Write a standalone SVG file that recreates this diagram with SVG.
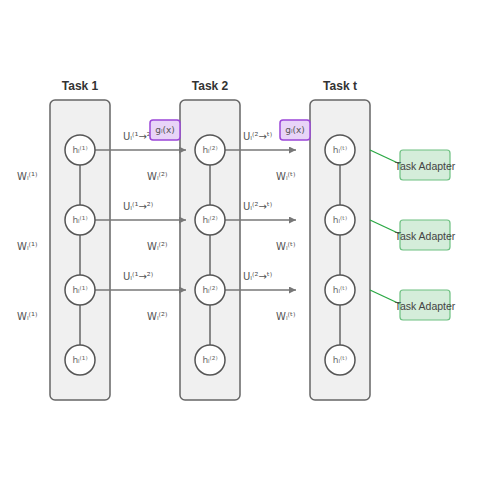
<svg xmlns="http://www.w3.org/2000/svg" width="500" height="500" viewBox="0 0 500 500">
<defs>
<marker id="arr" viewBox="0 0 10 10" refX="10" refY="5" markerWidth="7" markerHeight="7" markerUnits="userSpaceOnUse" orient="auto">
<path d="M0,0 L10,5 L0,10 z" fill="#777"/>
</marker>
<style>
.col{fill:#f0f0f0;stroke:#666;stroke-width:1.5}
.title{font-family:"Liberation Sans",Arial,sans-serif;font-size:12px;font-weight:bold;fill:#333;text-anchor:middle}
.node{fill:#fff;stroke:#555;stroke-width:1.5}
.nl{font-family:"DejaVu Sans","Liberation Sans",sans-serif;font-size:9px;fill:#666;text-anchor:middle;dominant-baseline:central}
.lbl{font-family:"DejaVu Sans","Liberation Sans",sans-serif;font-size:10px;fill:#555}
.vl{stroke:#666;stroke-width:1.5}
.ar{stroke:#777;stroke-width:1.5;fill:none;marker-end:url(#arr)}
.g{fill:#e8d4f8;stroke:#9b45d8;stroke-width:1.5}
.gl{font-family:"DejaVu Sans","Liberation Sans",sans-serif;font-size:9px;fill:#555;text-anchor:middle;dominant-baseline:central}
.ad{fill:#d4edda;stroke:#6cc080;stroke-width:1.2}
.adl{font-family:"Liberation Sans",Arial,sans-serif;font-size:10.5px;fill:#444;text-anchor:middle;dominant-baseline:central}
.gr{stroke:#2aa844;stroke-width:1.3}
</style>
</defs>
<rect width="500" height="500" fill="#fff"/>

<g id="task1">
<rect class="col" x="50" y="100" width="60" height="300" rx="5"/>
<text class="title" x="80" y="90">Task 1</text>
</g>
<g id="task2">
<rect class="col" x="180" y="100" width="60" height="300" rx="5"/>
<text class="title" x="210" y="90">Task 2</text>
</g>
<g id="taskt">
<rect class="col" x="310" y="100" width="60" height="300" rx="5"/>
<text class="title" x="340" y="90">Task t</text>
</g>

<g id="connectors">
<line class="vl" x1="80" y1="165" x2="80" y2="205"/>
<line class="vl" x1="80" y1="235" x2="80" y2="275"/>
<line class="vl" x1="80" y1="305" x2="80" y2="345"/>
<line class="vl" x1="210" y1="165" x2="210" y2="205"/>
<line class="vl" x1="210" y1="235" x2="210" y2="275"/>
<line class="vl" x1="210" y1="305" x2="210" y2="345"/>
<line class="vl" x1="340" y1="165" x2="340" y2="205"/>
<line class="vl" x1="340" y1="235" x2="340" y2="275"/>
<line class="vl" x1="340" y1="305" x2="340" y2="345"/>
<line class="ar" x1="95" y1="150" x2="186" y2="150"/>
<line class="ar" x1="95" y1="220" x2="186" y2="220"/>
<line class="ar" x1="95" y1="290" x2="186" y2="290"/>
<line class="ar" x1="225" y1="150" x2="296" y2="150"/>
<line class="ar" x1="225" y1="220" x2="296" y2="220"/>
<line class="ar" x1="225" y1="290" x2="296" y2="290"/>
<line class="gr" x1="370" y1="150" x2="400" y2="164"/>
<line class="gr" x1="370" y1="220" x2="400" y2="234"/>
<line class="gr" x1="370" y1="290" x2="400" y2="304"/>
</g>

<g id="labels">
<text class="lbl" x="123" y="140">Uₗ⁽¹→²⁾</text>
<text class="lbl" x="123" y="210">Uₗ⁽¹→²⁾</text>
<text class="lbl" x="123" y="280">Uₗ⁽¹→²⁾</text>
<text class="lbl" x="243" y="140">Uₗ⁽²→ᵗ⁾</text>
<text class="lbl" x="243" y="210">Uₗ⁽²→ᵗ⁾</text>
<text class="lbl" x="243" y="280">Uₗ⁽²→ᵗ⁾</text>
<text class="lbl" x="17" y="180">Wₗ⁽¹⁾</text>
<text class="lbl" x="17" y="250">Wₗ⁽¹⁾</text>
<text class="lbl" x="17" y="320">Wₗ⁽¹⁾</text>
<text class="lbl" x="147" y="180">Wₗ⁽²⁾</text>
<text class="lbl" x="147" y="250">Wₗ⁽²⁾</text>
<text class="lbl" x="147" y="320">Wₗ⁽²⁾</text>
<text class="lbl" x="276" y="180">Wₗ⁽ᵗ⁾</text>
<text class="lbl" x="276" y="250">Wₗ⁽ᵗ⁾</text>
<text class="lbl" x="276" y="320">Wₗ⁽ᵗ⁾</text>
</g>

<g id="n1_1"><circle class="node" cx="80" cy="150" r="15"/><text class="nl" x="80" y="150">hₗ⁽¹⁾</text></g>
<g id="n1_2"><circle class="node" cx="80" cy="220" r="15"/><text class="nl" x="80" y="220">hₗ⁽¹⁾</text></g>
<g id="n1_3"><circle class="node" cx="80" cy="290" r="15"/><text class="nl" x="80" y="290">hₗ⁽¹⁾</text></g>
<g id="n1_4"><circle class="node" cx="80" cy="360" r="15"/><text class="nl" x="80" y="360">hₗ⁽¹⁾</text></g>
<g id="n2_1"><circle class="node" cx="210" cy="150" r="15"/><text class="nl" x="210" y="150">hₗ⁽²⁾</text></g>
<g id="n2_2"><circle class="node" cx="210" cy="220" r="15"/><text class="nl" x="210" y="220">hₗ⁽²⁾</text></g>
<g id="n2_3"><circle class="node" cx="210" cy="290" r="15"/><text class="nl" x="210" y="290">hₗ⁽²⁾</text></g>
<g id="n2_4"><circle class="node" cx="210" cy="360" r="15"/><text class="nl" x="210" y="360">hₗ⁽²⁾</text></g>
<g id="nt_1"><circle class="node" cx="340" cy="150" r="15"/><text class="nl" x="340" y="150">hₗ⁽ᵗ⁾</text></g>
<g id="nt_2"><circle class="node" cx="340" cy="220" r="15"/><text class="nl" x="340" y="220">hₗ⁽ᵗ⁾</text></g>
<g id="nt_3"><circle class="node" cx="340" cy="290" r="15"/><text class="nl" x="340" y="290">hₗ⁽ᵗ⁾</text></g>
<g id="nt_4"><circle class="node" cx="340" cy="360" r="15"/><text class="nl" x="340" y="360">hₗ⁽ᵗ⁾</text></g>

<g id="gate1"><rect class="g" x="150" y="120" width="30" height="20" rx="3"/><text class="gl" x="165" y="130">gₗ(x)</text></g>
<g id="gate2"><rect class="g" x="280" y="120" width="30" height="20" rx="3"/><text class="gl" x="295" y="130">gₗ(x)</text></g>

<g id="adapter1"><rect class="ad" x="400" y="150" width="50" height="30" rx="3"/><text class="adl" x="425" y="166">Task Adapter</text></g>
<g id="adapter2"><rect class="ad" x="400" y="220" width="50" height="30" rx="3"/><text class="adl" x="425" y="236">Task Adapter</text></g>
<g id="adapter3"><rect class="ad" x="400" y="290" width="50" height="30" rx="3"/><text class="adl" x="425" y="306">Task Adapter</text></g>
</svg>
